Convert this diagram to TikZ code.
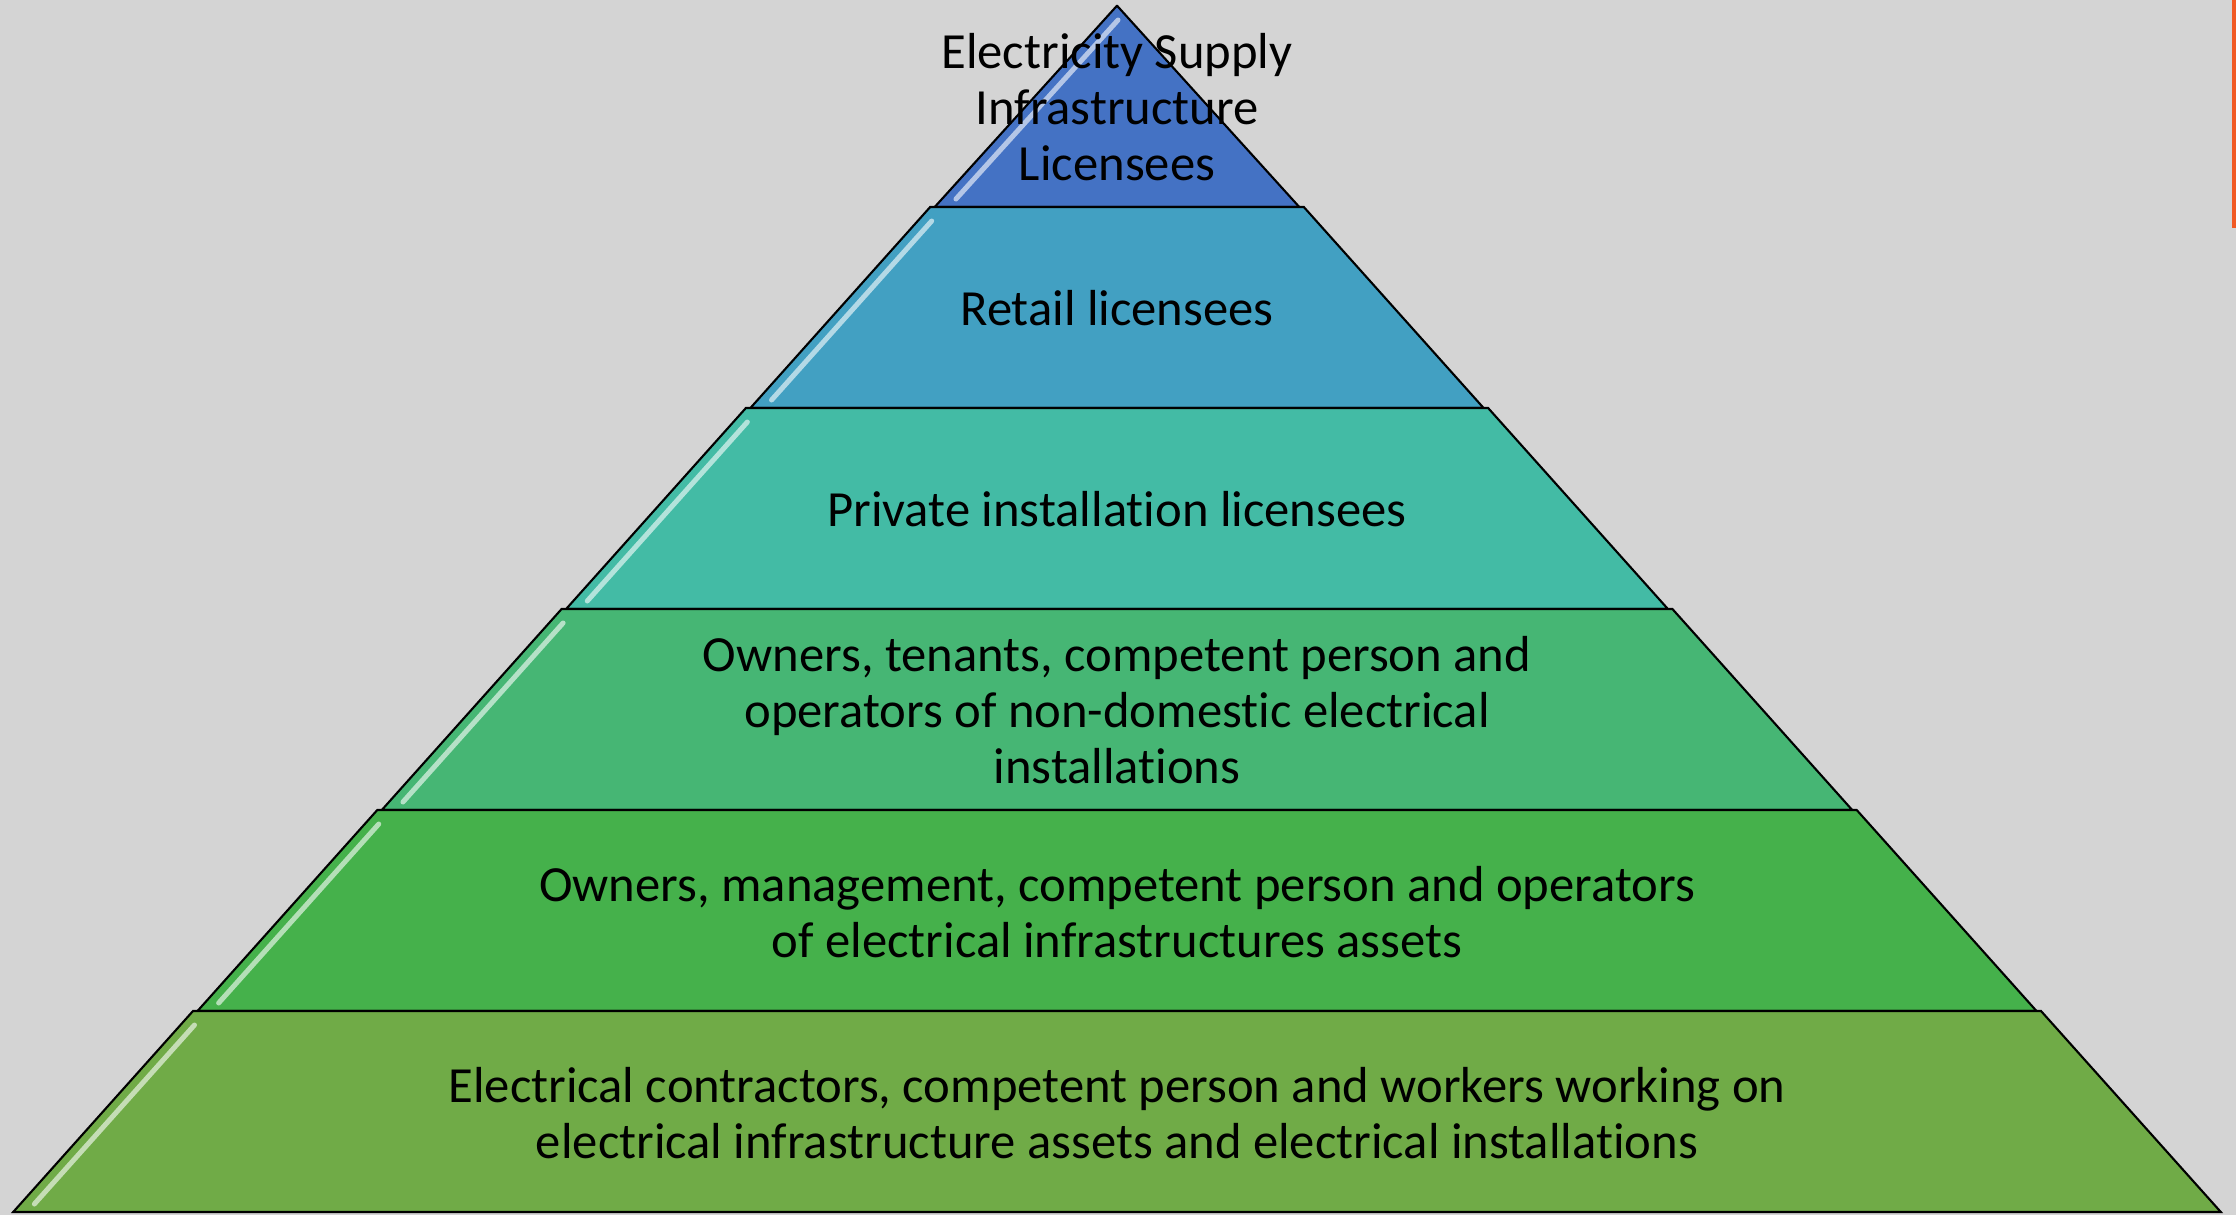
\documentclass[tikz,border=0pt]{standalone}
\usepackage{fontspec}
\setmainfont{Carlito}[Ligatures=NoCommon]

\definecolor{bggray}{HTML}{D4D4D4}
\definecolor{tierA}{HTML}{4472C4}
\definecolor{tierB}{HTML}{42A0C2}
\definecolor{tierC}{HTML}{43BBA5}
\definecolor{tierD}{HTML}{46B674}
\definecolor{tierE}{HTML}{45B14B}
\definecolor{tierF}{HTML}{70AB47}
\definecolor{edgeorange}{HTML}{F15A24}

\begin{document}
\begin{tikzpicture}[x=0.01cm, y=-0.01cm]
    % Define styles
    \tikzstyle{tier} = [draw=black, line width=0.6pt, line join=miter]
    \tikzstyle{gloss} = [white, opacity=0.6, line width=0.05cm, line cap=round]
    \tikzstyle{tiertext} = [align=center, text=black, font=\fontsize{14.4}{16}\selectfont]

    % Background
    \useasboundingbox[fill=bggray] (0,0) rectangle (2236,1215);
    \fill[edgeorange] (2232,0) rectangle (2236,228);

    % PYRAMID (apex at 1117,6; each tier 201 high)
    \foreach \k/\col in {1/tierA, 2/tierB, 3/tierC, 4/tierD, 5/tierE, 6/tierF} {
        \pgfmathsetmacro\yt{6+(\k-1)*201}
        \pgfmathsetmacro\yb{6+\k*201}
        \pgfmathsetmacro\wt{ifthenelse(\k==1,0.3,(\k-1)*184.3+2.5)}
        \pgfmathsetmacro\wb{\k*184.3-2}
        \pgfmathsetmacro\sl{(\wb-\wt)/201}
        \filldraw[tier, fill=\col] (1117-\wt,\yt) -- (1117+\wt,\yt) -- (1117+\wb,\yb) -- (1117-\wb,\yb) -- cycle;
        \draw[gloss] (1131-\wt-14*\sl,\yt+14) -- (1131-\wb+8*\sl,\yb-8);
    }

    % Tier labels
    \node[tiertext] (tier1) at (1117,107) {Electricity Supply\\Infrastructure\\Licensees};
    \node[tiertext] (tier2) at (1117,308) {Retail licensees};
    \node[tiertext] (tier3) at (1117,509) {Private installation licensees};
    \node[tiertext] (tier4) at (1117,710) {Owners, tenants, competent person and\\operators of non-domestic electrical\\installations};
    \node[tiertext] (tier5) at (1117,912) {Owners, management, competent person and operators\\of electrical infrastructures assets};
    \node[tiertext] (tier6) at (1117,1113) {Electrical contractors, competent person and workers working on\\electrical infrastructure assets and electrical installations};

\end{tikzpicture}
\end{document}
